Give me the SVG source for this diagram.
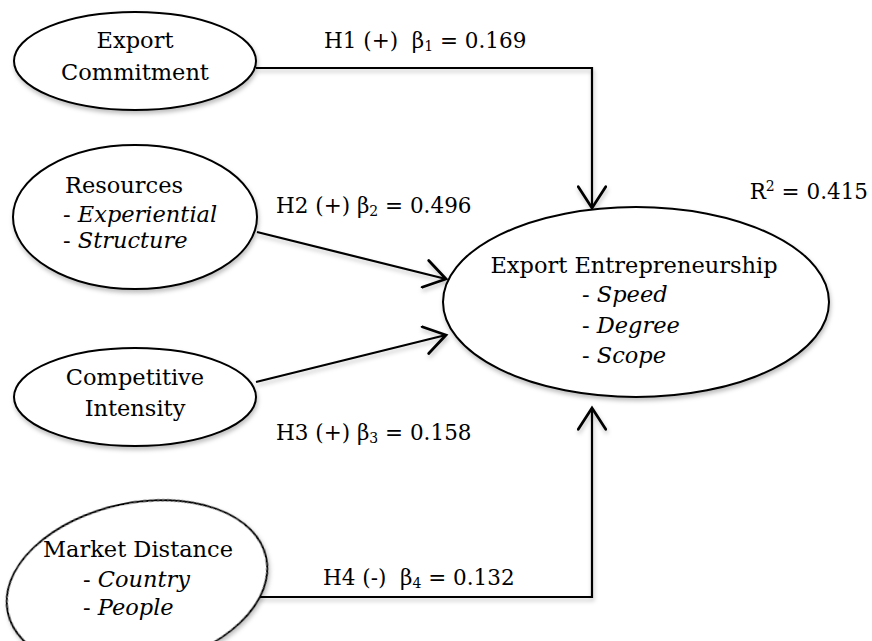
<svg xmlns="http://www.w3.org/2000/svg" width="872" height="641" viewBox="0 0 872 641">
  <defs>
    <filter id="sh" x="-10%" y="-10%" width="130%" height="140%">
      <feDropShadow dx="1" dy="3" stdDeviation="2" flood-color="#000" flood-opacity="0.25"/>
    </filter>
    <marker id="arr" markerUnits="userSpaceOnUse" markerWidth="30" markerHeight="30" refX="20" refY="12" orient="auto" viewBox="0 0 24 24">
      <path d="M3,1 L20,12 L3,23" fill="none" stroke="#000" stroke-width="2.2" stroke-linecap="round" stroke-linejoin="miter"/>
    </marker>
    <style>
      .node ellipse { fill: #fff; stroke: #000; stroke-width: 2; }
      text { font-family: "DejaVu Serif", "Liberation Serif", serif; font-size: 22.5px; fill: #000; }
      .it { font-style: italic; }
      .lbl { font-size: 21.5px; }
      .sub { font-size: 14px; }
      .conn path { fill: none; stroke: #000; stroke-width: 2.2; }
    </style>
  </defs>
  <rect width="872" height="641" fill="#fff"/>

  <g id="connectors" class="conn" filter="url(#sh)">
    <path d="M256,68 H592 V208" marker-end="url(#arr)"/>
    <path d="M257,232 L446,279" marker-end="url(#arr)"/>
    <path d="M256,382 L446,335" marker-end="url(#arr)"/>
    <path d="M258,597 H592 V408" marker-end="url(#arr)"/>
  </g>

  <g id="export-commitment" class="node">
    <ellipse cx="135" cy="61" rx="121" ry="49" filter="url(#sh)"/>
    <text x="135" y="48" text-anchor="middle">Export</text>
    <text x="135" y="80" text-anchor="middle">Commitment</text>
  </g>

  <g id="resources" class="node">
    <ellipse cx="135" cy="217" rx="122" ry="72" filter="url(#sh)"/>
    <text x="65" y="193">Resources</text>
    <text x="63" y="222">- <tspan class="it">Experiential</tspan></text>
    <text x="63" y="248">- <tspan class="it">Structure</tspan></text>
  </g>

  <g id="competitive-intensity" class="node">
    <ellipse cx="135" cy="397" rx="121" ry="49" filter="url(#sh)"/>
    <text x="135" y="385" text-anchor="middle">Competitive</text>
    <text x="135" y="416" text-anchor="middle">Intensity</text>
  </g>

  <g id="market-distance" class="node">
    <ellipse cx="137" cy="585" rx="132" ry="82" transform="rotate(-12 137 585)" filter="url(#sh)"/>
    <text x="43" y="557">Market Distance</text>
    <text x="83" y="587">- <tspan class="it">Country</tspan></text>
    <text x="83" y="615">- <tspan class="it">People</tspan></text>
  </g>

  <g id="export-entrepreneurship" class="node">
    <ellipse cx="636" cy="302" rx="193" ry="95" filter="url(#sh)"/>
    <text x="634" y="273" text-anchor="middle">Export Entrepreneurship</text>
    <text x="582" y="302">- <tspan class="it">Speed</tspan></text>
    <text x="582" y="333">- <tspan class="it">Degree</tspan></text>
    <text x="582" y="363">- <tspan class="it">Scope</tspan></text>
  </g>

  <g id="labels">
    <text class="lbl" x="324" y="48" xml:space="preserve">H1 (+)  β<tspan class="sub" dy="3">1</tspan><tspan dy="-3"> = 0.169</tspan></text>
    <text class="lbl" x="276" y="213">H2 (+) β<tspan class="sub" dy="3">2</tspan><tspan dy="-3"> = 0.496</tspan></text>
    <text class="lbl" x="276" y="440">H3 (+) β<tspan class="sub" dy="3">3</tspan><tspan dy="-3"> = 0.158</tspan></text>
    <text class="lbl" x="323" y="585" xml:space="preserve">H4 (-)  β<tspan class="sub" dy="3">4</tspan><tspan dy="-3"> = 0.132</tspan></text>
    <text class="lbl" x="868" y="199" text-anchor="end">R<tspan class="sub" dy="-8">2</tspan><tspan dy="8"> = 0.415</tspan></text>
  </g>
</svg>
